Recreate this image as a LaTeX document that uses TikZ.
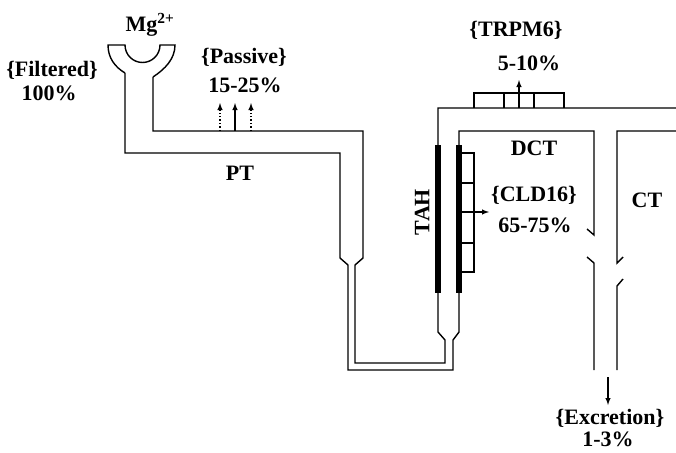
\documentclass[tikz,border=0pt]{standalone}
\usepackage{fontspec}
\setmainfont{Liberation Serif}
\usetikzlibrary{arrows,shapes,decorations}

\begin{document}
\begin{tikzpicture}[x=1pt, y=-1pt, line width=1.4pt,
                    lbl/.style={font=\bfseries\fontsize{22}{24}\selectfont,
                    inner sep=0pt},
                    flux/.style={-latex, line width=1.4pt},
                    bar/.style={line width=5.5pt}]
\useasboundingbox (0,0) rectangle (676,452);
% Mg cup on top of the tubule
\draw (125,73) .. controls (115,67) and (108,58) .. (108,45) -- (125,45)
      arc (180:360:17.5pt) -- (175,45)
      .. controls (175,59) and (165,69) .. (153,77);
% outer wall of PT, loop and TAH
\draw (125,73) -- (125,153) -- (340,153) -- (340,258) -- (348,265)
      -- (348,370) -- (453,370) -- (453,340) -- (459,332) -- (459,145)
      -- (459,131) -- (594,131) -- (594,235) -- (587,229);
% inner wall of PT, loop and TAH
\draw (153,77) -- (153,131) -- (363,131) -- (363,258) -- (355,265)
      -- (355,363) -- (445,363) -- (445,340) -- (438,332) -- (438,108)
      -- (676,108);
% collecting tubule
\draw (676,131) -- (617,131) -- (617,263) -- (623,257);
\draw (587,257) -- (594,263) -- (594,370);
\draw (623,279) -- (617,286) -- (617,370);
% thick TAH walls
\foreach \x in {438,459}
  \draw[bar] (\x,145) -- (\x,293);
% TRPM6 channels
\draw (474,108) -- (474,93) -- (564,93) -- (564,108);
\foreach \x in {504,534}
  \draw (\x,93) -- (\x,108);
% CLD16 channels
\draw (459,153) -- (474,153) -- (474,272) -- (459,272);
\foreach \y in {183,243}
  \draw (459,\y) -- (474,\y);
% labels
\node[lbl] (mg) at (150,25) {Mg\textsuperscript{2+}};
\node[lbl] (filt) at (52,70) {\{Filtered\}};
\node[lbl] (filtp) at (49,93) {100\%};
\node[lbl] (pass) at (244,57) {\{Passive\}};
\node[lbl] (passp) at (245,85) {15-25\%};
\node[lbl] (pt) at (240,173) {PT};
\node[lbl] (trpm) at (516,30) {\{TRPM6\}};
\node[lbl] (trpmp) at (529,63) {5-10\%};
\node[lbl] (dct) at (534,148) {DCT};
\node[lbl, rotate=90] (tah) at (422,212) {TAH};
\node[lbl] (cld) at (534,195) {\{CLD16\}};
\node[lbl] (cldp) at (535,225) {65-75\%};
\node[lbl] (ct) at (647,200) {CT};
\node[lbl] (exc) at (610,418) {\{Excretion\}};
\node[lbl] (excp) at (608,439) {1-3\%};
% fluxes
\coordinate (pa1) at (235,131);
\coordinate (pa2) at (235,103);
\draw[flux] (pa1) -- (pa2);
\foreach \s in {-15,16}
  \draw[flux, dotted] ([xshift=\s pt]pa1) -- ([xshift=\s pt]pa2);
\coordinate (tr1) at (519,108);
\coordinate (tr2) at (519,80);
\draw[flux] (tr1) -- (tr2);
\coordinate (cl1) at (459,212);
\coordinate (cl2) at (489,212);
\draw[flux] (cl1) -- (cl2);
\coordinate (ex1) at (608,377);
\coordinate (ex2) at (608,405);
\draw[flux] (ex1) -- (ex2);
\end{tikzpicture}
\end{document}
